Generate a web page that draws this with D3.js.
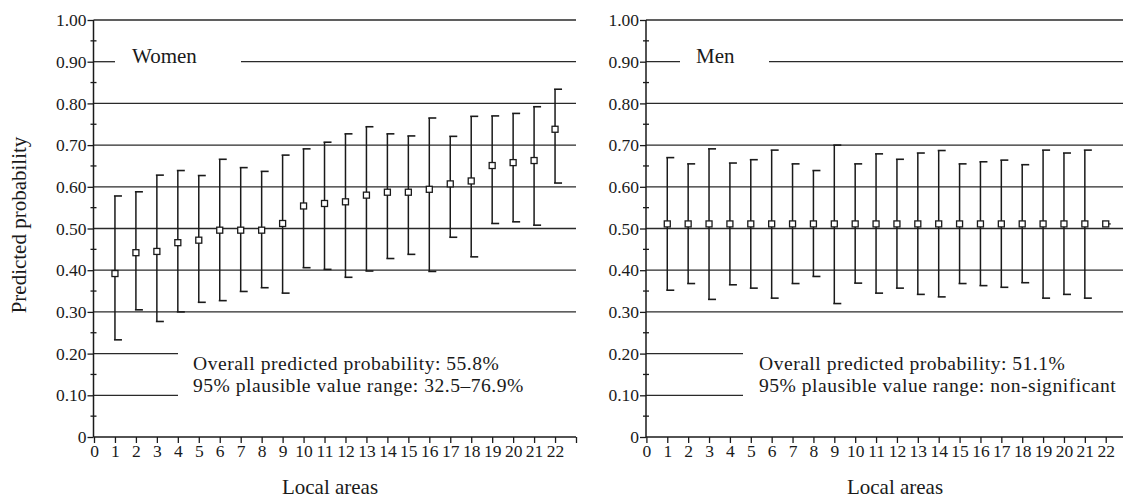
<!DOCTYPE html>
<html>
<head>
<meta charset="utf-8">
<script src="https://cdn.jsdelivr.net/npm/d3@7/dist/d3.min.js"></script>
<style>
  html, body { margin: 0; padding: 0; background: #fff; }
  svg { display: block; font-family: "Liberation Serif", "Times New Roman", serif; }
</style>
</head>
<body>
<svg id="chart" width="1123" height="503"></svg>
<script>
// ---------- data ----------
const areas = d3.range(1, 23);
const xTickLabels = d3.range(0, 23);
const yTickValues = [0, 0.1, 0.2, 0.3, 0.4, 0.5, 0.6, 0.7, 0.8, 0.9, 1.0];
const yTickLabels = ["0", "0.10", "0.20", "0.30", "0.40", "0.50", "0.60", "0.70", "0.80", "0.90", "1.00"];

const womenPoint = [0.392, 0.442, 0.445, 0.466, 0.472, 0.496, 0.496, 0.496, 0.512, 0.554, 0.560,
                    0.564, 0.580, 0.587, 0.587, 0.594, 0.607, 0.614, 0.651, 0.658, 0.663, 0.738];
const womenLower = [0.233, 0.305, 0.277, 0.300, 0.323, 0.327, 0.349, 0.358, 0.345, 0.406, 0.402,
                    0.383, 0.398, 0.428, 0.438, 0.397, 0.479, 0.432, 0.512, 0.516, 0.508, 0.609];
const womenUpper = [0.578, 0.588, 0.628, 0.639, 0.627, 0.666, 0.646, 0.637, 0.676, 0.691, 0.707,
                    0.727, 0.744, 0.727, 0.722, 0.765, 0.721, 0.769, 0.770, 0.776, 0.792, 0.834];

const menPoint = [0.511, 0.511, 0.511, 0.511, 0.511, 0.511, 0.511, 0.511, 0.511, 0.511, 0.511,
                  0.511, 0.511, 0.511, 0.511, 0.511, 0.511, 0.511, 0.511, 0.511, 0.511, 0.511];
const menLower = [0.352, 0.368, 0.330, 0.365, 0.357, 0.333, 0.368, 0.385, 0.320, 0.369, 0.345,
                  0.357, 0.342, 0.336, 0.368, 0.363, 0.359, 0.370, 0.333, 0.342, 0.333, null];
const menUpper = [0.670, 0.655, 0.691, 0.657, 0.665, 0.688, 0.655, 0.639, 0.700, 0.655, 0.679,
                  0.666, 0.681, 0.687, 0.655, 0.660, 0.664, 0.653, 0.688, 0.681, 0.688, null];

const fullGridValues = [0.3, 0.4, 0.5, 0.6, 0.7, 0.8, 1.0];
const shortGridValues = [0.1, 0.2];

const panels = [
  {
    title: "Women", point: womenPoint, lower: womenLower, upper: womenUpper,
    note1: "Overall predicted probability: 55.8%",
    note2: "95% plausible value range: 32.5\u201376.9%",
    yLabel: "Predicted probability", xLabel: "Local areas",
    layout: { x0: 94, x23: 576, axisX: 93.5, gridEnd: 576, gapA: 115, gapB: 241, shortEnd: 178,
              titleX: 132, noteX: 193, xLabelX: 330 }
  },
  {
    title: "Men", point: menPoint, lower: menLower, upper: menUpper,
    note1: "Overall predicted probability: 51.1%",
    note2: "95% plausible value range: non-significant",
    yLabel: null, xLabel: "Local areas",
    layout: { x0: 646.4, x23: 1126.6, axisX: 646, gridEnd: 1123, gapA: 680, gapB: 769, shortEnd: 743,
              titleX: 696, noteX: 759, xLabelX: 895 }
  }
];

// ---------- drawing ----------
const svg = d3.select("#chart");
const y = d3.scaleLinear().domain([0, 1]).range([437, 20]);
const ink = "#1a1a1a";
const bigFont = 21;
const noteFont = 19.6;
const tickFont = 17.5;

panels.forEach(p => {
  const L = p.layout;
  const x = d3.scaleLinear().domain([0, 23]).range([L.x0, L.x23]);
  const g = svg.append("g");

  // gridlines
  g.selectAll("line.full").data(fullGridValues).enter().append("line")
    .attr("x1", L.axisX).attr("x2", L.gridEnd)
    .attr("y1", d => y(d)).attr("y2", d => y(d))
    .attr("stroke", "#2a2a2a").attr("stroke-width", 1.3);
  // 0.90 line broken by title
  [[L.axisX, L.gapA], [L.gapB, L.gridEnd]].forEach(s => {
    g.append("line").attr("x1", s[0]).attr("x2", s[1])
      .attr("y1", y(0.9)).attr("y2", y(0.9))
      .attr("stroke", "#2a2a2a").attr("stroke-width", 1.3);
  });
  g.selectAll("line.short").data(shortGridValues).enter().append("line")
    .attr("x1", L.axisX).attr("x2", L.shortEnd)
    .attr("y1", d => y(d)).attr("y2", d => y(d))
    .attr("stroke", "#2a2a2a").attr("stroke-width", 1.3);

  // y axis
  const yAxis = d3.axisLeft(y).tickValues(yTickValues)
    .tickFormat((d, i) => yTickLabels[i]).tickSize(6).tickPadding(1);
  const ya = g.append("g").attr("transform", `translate(${L.axisX},0)`).call(yAxis);
  ya.select(".domain").attr("stroke", ink).attr("stroke-width", 1.5).attr("d", `M0,${y(1)}V${y(0)}`);
  ya.selectAll(".tick line").attr("stroke", ink).attr("stroke-width", 1.3);
  ya.selectAll(".tick text").attr("font-family", "Liberation Serif").attr("font-size", tickFont)
    .attr("fill", ink);
  // minor ticks crossing the axis
  const minor = d3.range(0.05, 1, 0.1);
  g.selectAll("line.minor").data(minor).enter().append("line")
    .attr("x1", L.axisX - 3).attr("x2", L.axisX + 3)
    .attr("y1", d => y(d)).attr("y2", d => y(d))
    .attr("stroke", ink).attr("stroke-width", 1.3);

  // x axis
  const xAxis = d3.axisBottom(x).tickValues(d3.range(0, 24))
    .tickFormat(d => (d <= 22 ? String(xTickLabels[d]) : "")).tickSize(6).tickPadding(2);
  const xa = g.append("g").attr("transform", `translate(0,${y(0)})`).call(xAxis);
  xa.select(".domain").attr("stroke", ink).attr("stroke-width", 1.5)
    .attr("d", `M${L.axisX},0H${Math.min(x(23), 1123)}`);
  xa.selectAll(".tick line").attr("stroke", ink).attr("stroke-width", 1.3);
  xa.selectAll(".tick text").attr("font-family", "Liberation Serif").attr("font-size", tickFont)
    .attr("fill", ink);

  // error bars
  const idx = d3.range(areas.length).filter(i => p.lower[i] != null);
  g.selectAll("line.bar").data(idx).enter().append("line")
    .attr("x1", i => x(areas[i])).attr("x2", i => x(areas[i]))
    .attr("y1", i => y(p.lower[i])).attr("y2", i => y(p.upper[i]))
    .attr("stroke", ink).attr("stroke-width", 1.5);
  ["upper", "lower"].forEach(k => {
    g.selectAll("line.cap" + k).data(idx).enter().append("line")
      .attr("x1", i => x(areas[i]) - 1).attr("x2", i => x(areas[i]) + 7)
      .attr("y1", i => y(p[k][i])).attr("y2", i => y(p[k][i]))
      .attr("stroke", ink).attr("stroke-width", 1.6);
  });
  // stub for points without range
  const noRange = d3.range(areas.length).filter(i => p.lower[i] == null);
  g.selectAll("line.stub").data(noRange).enter().append("line")
    .attr("x1", i => x(areas[i])).attr("x2", i => x(areas[i]) + 5)
    .attr("y1", i => y(p.point[i])).attr("y2", i => y(p.point[i]))
    .attr("stroke", ink).attr("stroke-width", 1.3);

  // markers
  g.selectAll("rect.pt").data(d3.range(areas.length)).enter().append("rect")
    .attr("x", i => x(areas[i]) - 3).attr("y", i => y(p.point[i]) - 3)
    .attr("width", 6).attr("height", 6)
    .attr("fill", "#fff").attr("stroke", ink).attr("stroke-width", 1.3);

  // texts
  g.append("text").attr("x", L.titleX).attr("y", 63).attr("font-size", bigFont).attr("fill", ink)
    .text(p.title);
  g.append("text").attr("x", L.noteX).attr("y", 369.5).attr("font-size", noteFont)
    .attr("letter-spacing", 0.5).attr("fill", ink).text(p.note1);
  g.append("text").attr("x", L.noteX).attr("y", 391.8).attr("font-size", noteFont)
    .attr("letter-spacing", 0.5).attr("fill", ink).text(p.note2);
  g.append("text").attr("x", L.xLabelX).attr("y", 494).attr("font-size", bigFont).attr("fill", ink)
    .attr("text-anchor", "middle").text(p.xLabel);
  if (p.yLabel) {
    g.append("text").attr("transform", "translate(26,225) rotate(-90)")
      .attr("font-size", bigFont).attr("fill", ink).attr("text-anchor", "middle").text(p.yLabel);
  }
});
</script>
</body>
</html>
